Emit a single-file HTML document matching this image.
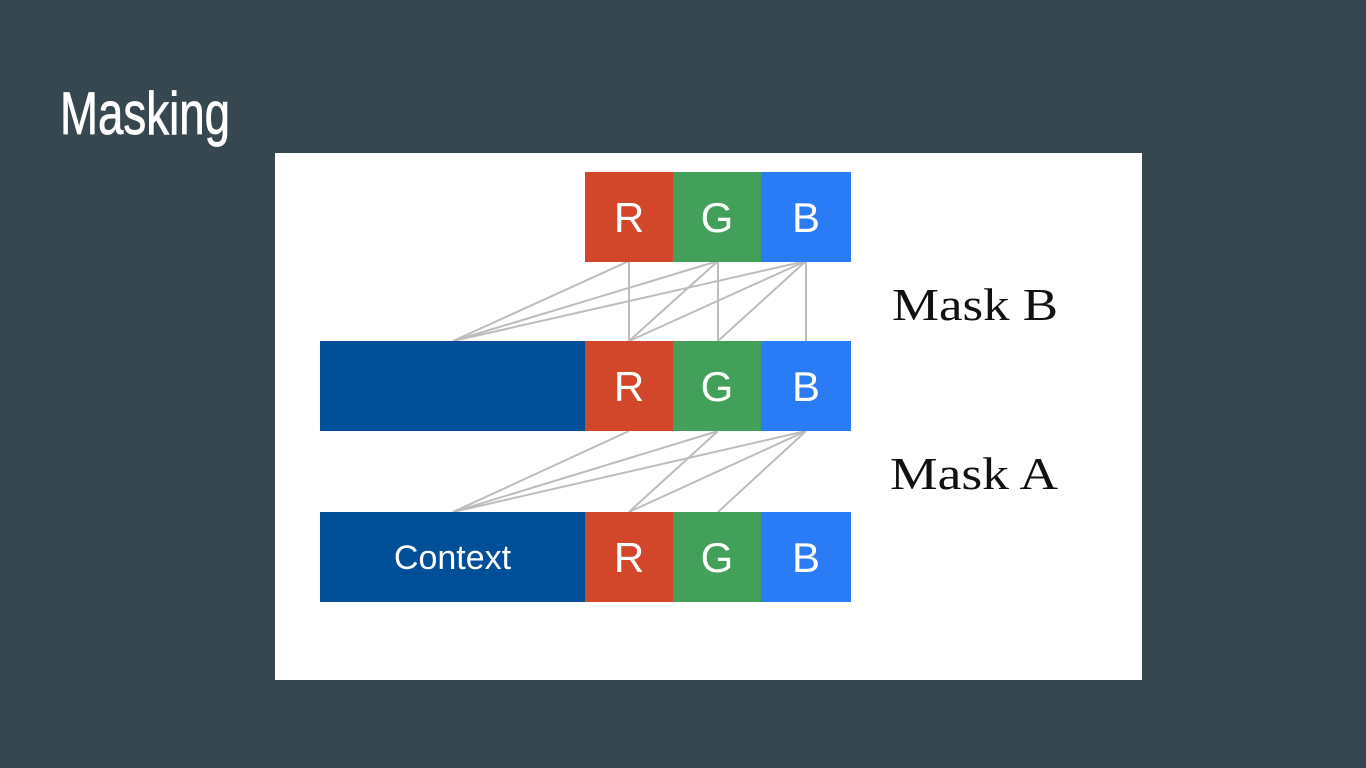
<!DOCTYPE html>
<html><head><meta charset="utf-8"><style>
html,body{margin:0;padding:0;background:#37474f;width:1366px;height:768px;overflow:hidden}
</style></head><body>
<svg width="1366" height="768" viewBox="0 0 1366 768">
<rect x="0" y="0" width="1366" height="768" fill="#37474f"/>
<text x="60" y="134" font-family="Liberation Sans, sans-serif" font-size="60" fill="#fff" stroke="#fff" stroke-width="0.8" textLength="170" lengthAdjust="spacingAndGlyphs">Masking</text>
<rect x="275" y="153" width="867" height="527" fill="#fff"/>
<g id="lines" stroke="#bdbdbd" stroke-width="2" fill="none"></g>
<g id="blocks"></g>
<text x="892" y="320" font-family="Liberation Serif, serif" font-size="46" fill="#111" textLength="166" lengthAdjust="spacingAndGlyphs">Mask B</text>
<text x="890" y="489" font-family="Liberation Serif, serif" font-size="46" fill="#111" textLength="168" lengthAdjust="spacingAndGlyphs">Mask A</text>
</svg>
<script>
const ns='http://www.w3.org/2000/svg';
const cx={C:453,R:629,G:718,B:806};
const maskB=[['R','C'],['R','R'],['G','C'],['G','R'],['G','G'],['B','C'],['B','R'],['B','G'],['B','B']];
const maskA=[['R','C'],['G','C'],['G','R'],['B','C'],['B','R'],['B','G']];
const lg=document.getElementById('lines');
function line(a,b,y1,y2){const l=document.createElementNS(ns,'line');
l.setAttribute('x1',cx[a]);l.setAttribute('y1',y1);l.setAttribute('x2',cx[b]);l.setAttribute('y2',y2);


lg.appendChild(l);}
maskB.forEach(p=>line(p[0],p[1],261,341));
maskA.forEach(p=>line(p[0],p[1],431,512));
const bg=document.getElementById('blocks');
function block(x,y,w,color,label,name,size){
const r=document.createElementNS(ns,'rect');r.setAttribute('x',x);r.setAttribute('y',y);r.setAttribute('width',w);r.setAttribute('height',90);r.setAttribute('fill',color);


bg.appendChild(r);
if(label){const t=document.createElementNS(ns,'text');t.setAttribute('x',x+w/2);t.setAttribute('y',y+45+(size*0.36));t.setAttribute('text-anchor','middle');
t.setAttribute('font-family','Liberation Sans, sans-serif');t.setAttribute('font-size',size);t.setAttribute('fill','#fff');t.textContent=label;


bg.appendChild(t);}}
[[172,false],[341,true,''],[512,true,'Context']].forEach((row,i)=>{
const y=row[0];
if(row[1]) block(320,y,265,'#004f98',row[2],'context-block',34);
block(585,y,88,'#d2462a','R','r-block',42);
block(673,y,88,'#43a05a','G','g-block',42);
block(761,y,90,'#2a7cf6','B','b-block',42);
});
</script>
</body></html>
